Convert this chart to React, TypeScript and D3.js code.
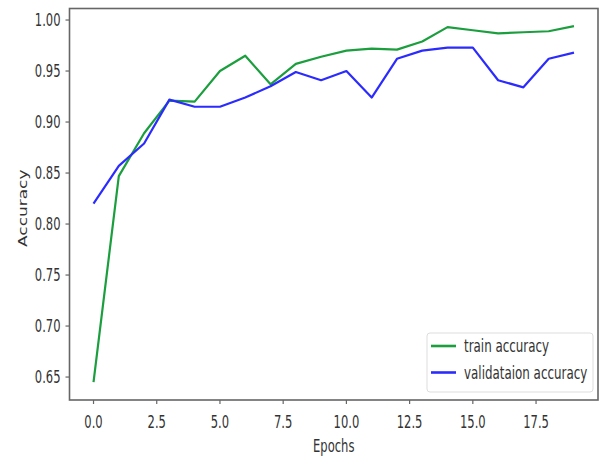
import React, { useEffect, useRef } from 'react';
import * as d3 from 'd3';

const epochs = d3.range(20);
const trainAcc = [0.645, 0.847, 0.889, 0.921, 0.920, 0.950, 0.965, 0.937, 0.957, 0.964,
  0.970, 0.972, 0.971, 0.979, 0.993, 0.990, 0.987, 0.988, 0.989, 0.994];
const valAcc = [0.820, 0.857, 0.879, 0.922, 0.915, 0.915, 0.924, 0.935, 0.949, 0.941,
  0.950, 0.924, 0.962, 0.970, 0.973, 0.973, 0.941, 0.934, 0.962, 0.968];
const xTicks = [0, 2.5, 5, 7.5, 10, 12.5, 15, 17.5];
const yTicks = [0.65, 0.70, 0.75, 0.80, 0.85, 0.90, 0.95, 1.00];
const seriesNames = ['train accuracy', 'validataion accuracy'];
const seriesColors = ['#1b9e3e', '#2b2bff'];

const W = 600;
const H = 457;
const FONT = "'DejaVu Sans', sans-serif";
const SX = 0.68; // horizontally squashed text, like the picture

const App: React.FC = () => {
  const svgRef = useRef<SVGSVGElement>(null);

  useEffect(() => {
    if (!svgRef.current) return;
    const svg = d3.select(svgRef.current);
    svg.selectAll('*').remove();

    const left = 69.5, right = 598, top = 8.5, bottom = 400;

    const x = d3.scaleLinear().domain([-0.95, 19.95]).range([left, right]);
    const y = d3.scaleLinear().domain([0.6275, 1.0113]).range([bottom, top]);

    // lines
    const line = d3.line<number>()
      .x((_, i) => x(epochs[i]))
      .y(d => y(d));

    [trainAcc, valAcc].forEach((s, i) => {
      svg.append('path')
        .datum(s)
        .attr('d', line)
        .attr('fill', 'none')
        .attr('stroke', seriesColors[i])
        .attr('stroke-width', 2.2)
        .attr('stroke-linejoin', 'round');
    });

    // frame
    svg.append('rect')
      .attr('x', left).attr('y', top)
      .attr('width', right - left).attr('height', bottom - top)
      .attr('fill', 'none')
      .attr('stroke', '#666')
      .attr('stroke-width', 1.6);

    const txt = '#333';

    // y ticks
    yTicks.forEach(t => {
      const yy = y(t);
      svg.append('line')
        .attr('x1', left - 4).attr('x2', left)
        .attr('y1', yy).attr('y2', yy)
        .attr('stroke', '#666').attr('stroke-width', 1.2);
      svg.append('text')
        .attr('transform', `translate(${left - 9},${yy + 6}) scale(${SX},1)`)
        .attr('text-anchor', 'end')
        .attr('font-family', FONT)
        .attr('font-size', 17)
        .attr('fill', txt)
        .text(t.toFixed(2));
    });

    // x ticks
    xTicks.forEach(t => {
      const xx = x(t);
      svg.append('line')
        .attr('x1', xx).attr('x2', xx)
        .attr('y1', bottom).attr('y2', bottom + 4)
        .attr('stroke', '#666').attr('stroke-width', 1.2);
      svg.append('text')
        .attr('transform', `translate(${xx},${bottom + 28}) scale(${SX},1)`)
        .attr('text-anchor', 'middle')
        .attr('font-family', FONT)
        .attr('font-size', 17)
        .attr('fill', txt)
        .text(t.toFixed(1));
    });

    // axis labels
    svg.append('text')
      .attr('transform', `translate(${(left + right) / 2},${bottom + 52}) scale(${SX},1)`)
      .attr('text-anchor', 'middle')
      .attr('font-family', FONT)
      .attr('font-size', 17)
      .attr('fill', txt)
      .text('Epochs');

    svg.append('text')
      .attr('transform', `translate(${27},${(top + bottom) / 2 + 4}) scale(${SX},1) rotate(-90)`)
      .attr('text-anchor', 'middle')
      .attr('font-family', FONT)
      .attr('font-size', 17)
      .attr('fill', txt)
      .text('Accuracy');

    // legend
    const lg = svg.append('g');
    lg.append('rect')
      .attr('x', 427).attr('y', 333)
      .attr('width', 166).attr('height', 59)
      .attr('rx', 3)
      .attr('fill', 'white')
      .attr('stroke', '#ddd')
      .attr('stroke-width', 1);
    seriesNames.forEach((name, i) => {
      const ly = 346 + i * 26.5;
      lg.append('line')
        .attr('x1', 431).attr('x2', 456)
        .attr('y1', ly).attr('y2', ly)
        .attr('stroke', seriesColors[i])
        .attr('stroke-width', 2.6);
      lg.append('text')
        .attr('transform', `translate(464,${ly + 6}) scale(${SX},1)`)
        .attr('font-family', FONT)
        .attr('font-size', 17.5)
        .attr('fill', txt)
        .text(name);
    });
  }, []);

  return (
    <svg ref={svgRef} width={W} height={H} style={{ position: 'absolute', left: 0, top: 0, background: 'white' }} />
  );
};

export default App;
